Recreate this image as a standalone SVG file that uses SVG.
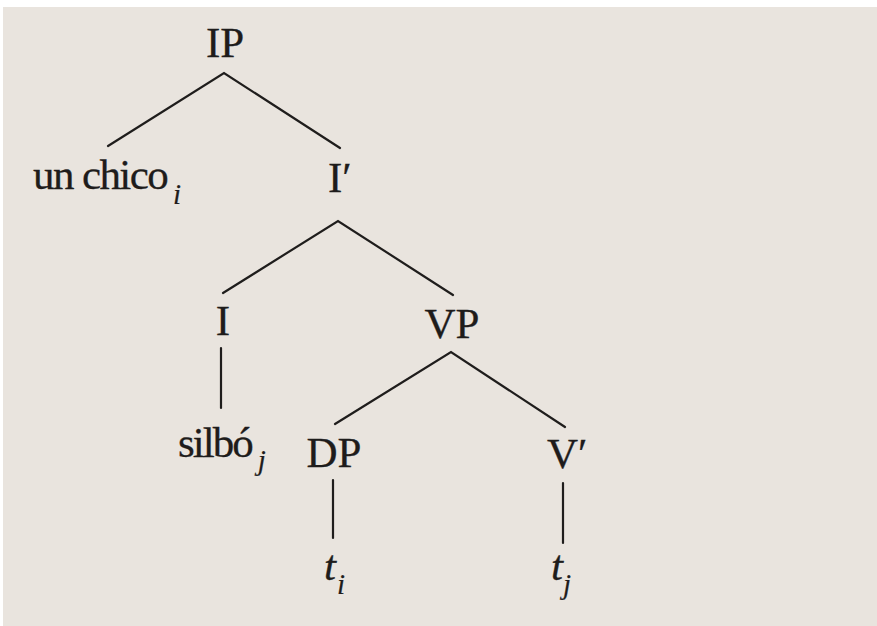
<svg xmlns="http://www.w3.org/2000/svg" width="877" height="626" viewBox="0 0 877 626">
  <style>
    .lbl { font-family: "Liberation Serif", "Times New Roman", serif; font-size: 43px; fill: #1e1c1b; stroke: #1e1c1b; stroke-width: 0.3; }
    .it { font-style: italic; }
    .sub { font-size: 29px; font-style: italic; stroke-width: 0.2; letter-spacing: 0; }
    .edge { stroke: #1f1d1c; stroke-width: 2.2; fill: none; stroke-linecap: round; stroke-linejoin: miter; }
  </style>
  <rect x="0" y="0" width="877" height="626" fill="#ffffff"/>
  <rect x="3" y="7" width="874" height="619" fill="#e9e4de"/>

  <g id="connectors">
    <polyline class="edge" points="108,146 224,73 340,148"/>
    <polyline class="edge" points="223,293 338,221 453,295"/>
    <polyline class="edge" points="335,424 451,352 565,427"/>
    <line class="edge" x1="221" y1="348" x2="221" y2="408"/>
    <line class="edge" x1="333" y1="480" x2="333" y2="538"/>
    <line class="edge" x1="563" y1="483" x2="563" y2="543"/>
  </g>

  <g id="node-IP"><text class="lbl" x="225" y="57" text-anchor="middle">IP</text></g>
  <g id="node-unchico">
    <text class="lbl" x="33" y="189" letter-spacing="-1.6">un chico<tspan class="sub" dx="6" dy="15">i</tspan></text>
  </g>
  <g id="node-Ibar"><text class="lbl" x="328" y="192">I′</text></g>
  <g id="node-I"><text class="lbl" x="223" y="335" text-anchor="middle">I</text></g>
  <g id="node-VP"><text class="lbl" x="452" y="338" text-anchor="middle">VP</text></g>
  <g id="node-silbo">
    <text class="lbl" x="178" y="457" letter-spacing="-2">silbó<tspan class="sub" dx="6" dy="13">j</tspan></text>
  </g>
  <g id="node-DP"><text class="lbl" x="334" y="467" text-anchor="middle">DP</text></g>
  <g id="node-Vbar"><text class="lbl" x="547" y="468">V′</text></g>
  <g id="node-ti">
    <text class="lbl it" x="324" y="580">t<tspan class="sub" dx="1" dy="14">i</tspan></text>
  </g>
  <g id="node-tj">
    <text class="lbl it" x="551" y="580">t<tspan class="sub" dx="0" dy="14">j</tspan></text>
  </g>
</svg>
